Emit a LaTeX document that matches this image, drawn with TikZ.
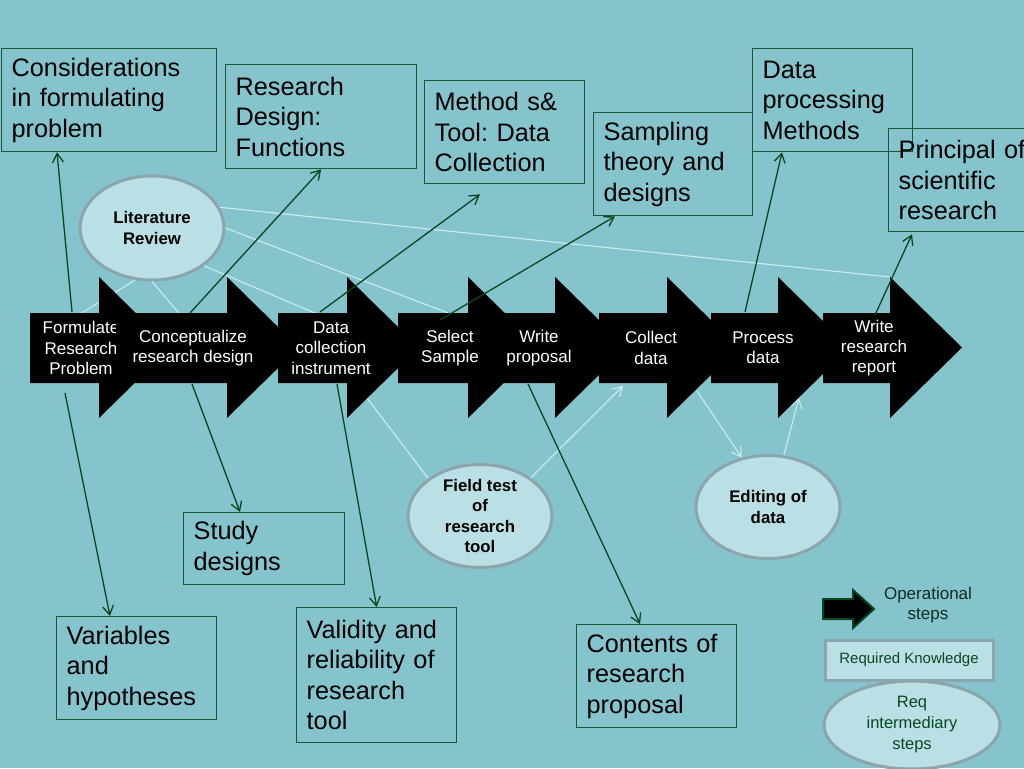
\documentclass[tikz,border=0pt]{standalone}
\usepackage{fontspec}
\setmainfont{Liberation Sans}
\frenchspacing
\usetikzlibrary{shapes.geometric,arrows.meta,calc}
\definecolor{bg}{RGB}{134,196,205}
\definecolor{boxgreen}{RGB}{30,85,50}
\definecolor{conngreen}{RGB}{10,70,30}
\definecolor{ellfill}{RGB}{186,224,229}
\definecolor{ellgrey}{RGB}{140,165,170}
\definecolor{lightln}{RGB}{205,236,238}
\definecolor{legtext}{RGB}{10,70,35}
\definecolor{optext}{RGB}{15,45,30}
\newcommand\steparrow[2]{\fill[black] (#1,313) -- (#2,313) -- (#2,277) -- (#2+72,347.5) -- (#2,418) -- (#2,383) -- (#1,383) -- cycle;}
\begin{document}
\begin{tikzpicture}[x=1pt,y=-1pt,
 kbox/.style={draw=boxgreen,line width=1.3pt,anchor=north west,inner xsep=10pt,inner ysep=0pt,align=left,font=\fontsize{25.3}{30.5}\selectfont},
 stepell/.style={ellipse,draw=ellgrey,line width=3pt,fill=ellfill,inner sep=0pt},
 elltext/.style={align=center,inner sep=0pt,font=\fontsize{16.8}{20.5}\selectfont\bfseries},
 steptext/.style={text=white,align=center,font=\fontsize{17}{20.3}\selectfont,inner sep=0pt},
 conn/.style={draw=conngreen,line width=1.3pt,-{Straight Barb[length=9pt,width=11pt]}},
 lite/.style={draw=lightln,line width=1.1pt},
 litearr/.style={lite,-{Straight Barb[length=9pt,width=11pt]}}
]
\clip (0,0) rectangle (1024,768);
\fill[bg] (0,0) rectangle (1024,768);

% knowledge boxes
\node[kbox,text width=195pt,minimum height=103pt] (cons) at (1,48) {Considerations\\in formulating\\problem};
\node[kbox,text width=171pt,minimum height=104pt] (rd) at (225,64) {Research\\Design:\\Functions};
\node[kbox,text width=140pt,minimum height=103pt] (meth) at (424,80) {Method s\&\\Tool: Data\\Collection};
\node[kbox,text width=139pt,minimum height=103pt] (samp) at (593,112) {Sampling\\theory and\\designs};
\node[kbox,text width=140pt,minimum height=103pt] (dproc) at (752,48) {Data\\processing\\Methods};
\node[kbox,text width=142pt,minimum height=103pt] (princ) at (888,128) {Principal of\\scientific\\research};
\node[kbox,text width=141pt,minimum height=72pt] (study) at (183,512) {Study\\designs};
\node[kbox,text width=140pt,minimum height=103pt] (vars) at (56,616) {Variables\\and\\hypotheses};
\node[kbox,text width=140pt,minimum height=135pt] (valid) at (296,607) {Validity and\\reliability of\\research\\tool};
\node[kbox,text width=140pt,minimum height=103pt] (cont) at (576,624) {Contents of\\research\\proposal};

% intermediary ellipses
\node[stepell,minimum width=144pt,minimum height=104pt] (lit) at (152,228) {};
\node[elltext] (littxt) at (lit.center) {Literature\\Review};
\node[stepell,minimum width=144pt,minimum height=103pt] (field) at (480,516) {};
\node[elltext] (fieldtxt) at (field.center) {Field test\\of\\research\\tool};
\node[stepell,minimum width=144pt,minimum height=103pt] (edit) at (768,507) {};
\node[elltext] (edittxt) at (edit.center) {Editing of\\data};

% light connectors
\coordinate (l1e) at (890,277);
\coordinate (l2e) at (448,313);
\coordinate (l3e) at (317,314);
\coordinate (l4e) at (183,318);
\coordinate (l5e) at (80,314);
\coordinate (f1s) at (367,398);
\coordinate (f2e) at (623,386);
\coordinate (e1s) at (697,391);
\coordinate (e2e) at (799,398);
\draw[lite] (lit.17) -- (l1e);
\draw[lite] (lit.0) -- (l2e);
\draw[lite] (lit.-36) -- (l3e);
\draw[lite] (lit.-90) -- (l4e);
\draw[lite] (lit.-108) -- (l5e);
\draw[lite] (f1s) -- (field.144);
\draw[litearr] (field.37) -- (f2e);
\draw[litearr] (e1s) -- (edit.118);
\draw[litearr] (edit.73) -- (e2e);

% operational steps
\steparrow{30}{99}
\node[steptext] (s1) at (81,348) {Formulate\\Research\\Problem};
\steparrow{116}{227}
\node[steptext] (s2) at (193,348) {Conceptualize\\research design};
\steparrow{278}{347}
\node[steptext] (s3) at (331,348) {Data\\collection\\instrument};
\steparrow{398}{468}
\node[steptext] (s4) at (450,348) {Select\\Sample};
\steparrow{488}{555}
\node[steptext] (s5) at (539,348) {Write\\proposal};
\steparrow{599}{667}
\node[steptext] (s6) at (651,348) {Collect\\data};
\steparrow{711}{778}
\node[steptext] (s7) at (763,348) {Process\\data};
\steparrow{823}{890}
\node[steptext] (s8) at (874,348) {Write\\research\\report};

% dark connectors
\coordinate (a1u) at (72,312);
\coordinate (a1d) at (65,393);
\coordinate (a2u) at (190,313);
\coordinate (a2d) at (192,384);
\coordinate (a3u) at (320,312);
\coordinate (a3d) at (337,384);
\coordinate (a4u) at (440,320);
\coordinate (a5d) at (528,384);
\coordinate (a7u) at (745,312);
\coordinate (a8u) at (875,315);
\draw[conn] (a1u) -- ($(cons.south west)+(56,0)$);
\draw[conn] (a1d) -- ($(vars.north west)+(54,0)$);
\draw[conn] (a2u) -- (rd.south);
\draw[conn] (a2d) -- ($(study.north west)+(57,0)$);
\draw[conn] (a3u) -- ($(meth.south west)+(56,10)$);
\draw[conn] (a3d) -- (valid.north);
\draw[conn] (a4u) -- ($(samp.south west)+(22,0)$);
\draw[conn] (a5d) -- ($(cont.north west)+(64,0)$);
\draw[conn] (a7u) -- ($(dproc.south west)+(30,0)$);
\draw[conn] (a8u) -- ($(princ.south west)+(24,2)$);

% legend
\fill[black,draw=conngreen,line width=2pt] (823,599) -- (853,599) -- (853,590) -- (874,609) -- (853,628) -- (853,619) -- (823,619) -- cycle;
\node[font=\fontsize{17}{19.5}\selectfont,align=center,text=optext] (optxt) at (928,605) {Operational\\steps};
\node[draw=ellgrey,line width=3pt,fill=ellfill,minimum width=168pt,minimum height=40pt,inner sep=0pt,font=\fontsize{15}{18}\selectfont,text=legtext] (reqk) at (909,660) {Required Knowledge};
\node[ellipse,draw=ellgrey,line width=3pt,fill=ellfill,minimum width=176pt,minimum height=88pt,inner sep=0pt] (reqi) at (912,725) {};
\node[text=legtext,font=\fontsize{16.5}{21}\selectfont,align=center,inner sep=0pt] (reqitxt) at (reqi.center) {Req\\intermediary\\steps};
\end{tikzpicture}
\end{document}
